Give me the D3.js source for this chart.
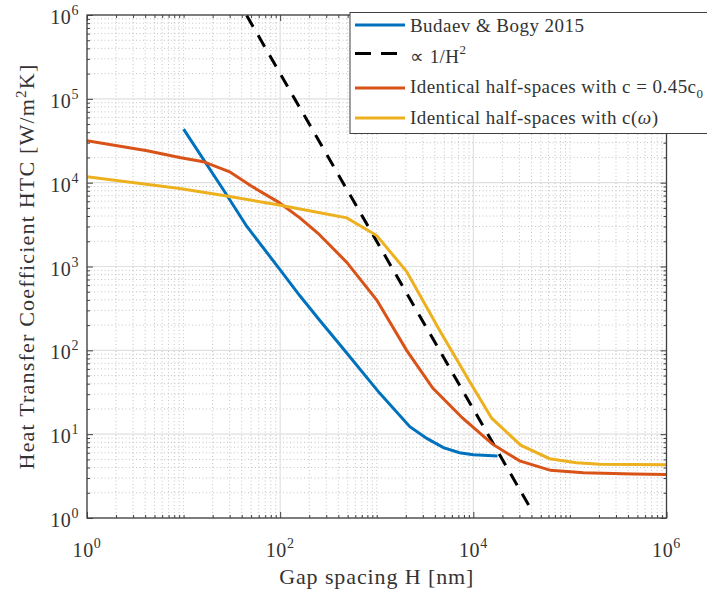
<!DOCTYPE html>
<html><head><meta charset="utf-8">
<script src="https://cdn.jsdelivr.net/npm/d3@7"></script>
<style>
html,body{margin:0;padding:0;background:#fff;}
svg{display:block;}
text{font-family:"Liberation Serif","Times New Roman",serif;fill:#333;}
</style></head>
<body>
<svg id="chart" width="707" height="595"></svg>
<script>
// ---- data ----
const seriesNames = ["Budaev & Bogy 2015", "∝ 1/H²", "Identical half-spaces with c = 0.45c0", "Identical half-spaces with c(ω)"];
const budaevH   = [10, 26, 45, 100, 160, 260, 420, 1070, 2200, 3300, 4900, 7200, 10000, 17800];
const budaevHTC = [43600, 8130, 3020, 912, 447, 224, 115, 30.9, 12.3, 8.9, 6.9, 6.0, 5.7, 5.5];
const invSqH    = [45, 39000];
const invSqHTC  = [988000, 1.31];
const constCH   = [1, 4.2, 9.1, 16, 30, 52, 95, 160, 245, 490, 1000, 2040, 3800, 7760, 15800, 30200, 63000, 138000, 447000, 1000000];
const constCHTC = [31600, 24000, 20000, 17800, 13500, 8900, 5900, 3800, 2510, 1120, 398, 100, 35.5, 15.5, 7.6, 4.8, 3.7, 3.47, 3.35, 3.31];
const varCH     = [1, 9.1, 28, 91, 257, 490, 1000, 2040, 4470, 9120, 15500, 30900, 61700, 117000, 204000, 1000000];
const varCHTC   = [11750, 8510, 6920, 5500, 4370, 3800, 2340, 871, 174, 42.7, 15.5, 7.4, 5.1, 4.57, 4.37, 4.31];
const xMajorTicks = [1, 1e2, 1e4, 1e6];
const xTickExps   = ["0", "2", "4", "6"];
const yMajorTicks = [1, 1e1, 1e2, 1e3, 1e4, 1e5, 1e6];
const yTickExps   = ["0", "1", "2", "3", "4", "5", "6"];
const xTitle = "Gap spacing H [nm]";
const yTitle = "Heat Transfer Coefficient HTC [W/m²K]";

// ---- layout ----
const L = 87, R = 666.5, T = 15, B = 518;
const svg = d3.select("#chart");
const x = d3.scaleLog().domain([1, 1e6]).range([L, R]);
const y = d3.scaleLog().domain([1, 1e6]).range([B, T]);

// minor tick values
const xMinor = [], yMinor = [];
for (let e = 0; e < 6; e++) {
  for (let m = 2; m <= 9; m++) { xMinor.push(m * Math.pow(10, e)); yMinor.push(m * Math.pow(10, e)); }
}
[1e1, 1e3, 1e5].forEach(v => xMinor.push(v));

// grid
const grid = svg.append("g");
grid.selectAll(".xminor").data(xMinor).join("line")
  .attr("x1", d => x(d)).attr("x2", d => x(d)).attr("y1", T).attr("y2", B)
  .attr("stroke", "#c4c4c4").attr("stroke-width", 1).attr("stroke-dasharray", "1,2.5");
grid.selectAll(".yminor").data(yMinor).join("line")
  .attr("y1", d => y(d)).attr("y2", d => y(d)).attr("x1", L).attr("x2", R)
  .attr("stroke", "#c4c4c4").attr("stroke-width", 1).attr("stroke-dasharray", "1,2.5");
grid.selectAll(".xmajor").data(xMajorTicks).join("line")
  .attr("x1", d => x(d)).attr("x2", d => x(d)).attr("y1", T).attr("y2", B)
  .attr("stroke", "#e0e0e0").attr("stroke-width", 1.2);
grid.selectAll(".ymajor").data(yMajorTicks).join("line")
  .attr("y1", d => y(d)).attr("y2", d => y(d)).attr("x1", L).attr("x2", R)
  .attr("stroke", "#e0e0e0").attr("stroke-width", 1.2);

// clip
svg.append("clipPath").attr("id", "clip").append("rect")
  .attr("x", L).attr("y", T).attr("width", R - L).attr("height", B - T);

const line = d3.line().x(d => x(d[0])).y(d => y(d[1]));
const plot = svg.append("g").attr("clip-path", "url(#clip)");
const series = [
  {H: budaevH, V: budaevHTC, color: "#0072BD", dash: null},
  {H: invSqH, V: invSqHTC, color: "#000000", dash: "13,10"},
  {H: constCH, V: constCHTC, color: "#D95319", dash: null},
  {H: varCH, V: varCHTC, color: "#EDB120", dash: null}
];
series.forEach(s => {
  plot.append("path").datum(s.H.map((h, i) => [h, s.V[i]]))
    .attr("d", line).attr("fill", "none").attr("stroke", s.color)
    .attr("stroke-width", 3).attr("stroke-dasharray", s.dash);
});

// axes (ticks inward, box on)
function styleAxis(g) {
  g.select(".domain").remove();
  g.selectAll(".tick line").attr("stroke", "#404040").attr("stroke-width", 1);
  g.selectAll("text").remove();
}
svg.append("g").attr("transform", `translate(0,${B})`)
  .call(d3.axisBottom(x).tickValues(xMajorTicks).tickSize(-6)).call(styleAxis);
svg.append("g").attr("transform", `translate(0,${B})`)
  .call(d3.axisBottom(x).tickValues(xMinor).tickSize(-3)).call(styleAxis);
svg.append("g").attr("transform", `translate(0,${T})`)
  .call(d3.axisTop(x).tickValues(xMajorTicks).tickSize(-6)).call(styleAxis);
svg.append("g").attr("transform", `translate(0,${T})`)
  .call(d3.axisTop(x).tickValues(xMinor).tickSize(-3)).call(styleAxis);
svg.append("g").attr("transform", `translate(${L},0)`)
  .call(d3.axisLeft(y).tickValues(yMajorTicks).tickSize(-6)).call(styleAxis);
svg.append("g").attr("transform", `translate(${L},0)`)
  .call(d3.axisLeft(y).tickValues(yMinor).tickSize(-3)).call(styleAxis);
svg.append("g").attr("transform", `translate(${R},0)`)
  .call(d3.axisRight(y).tickValues(yMajorTicks).tickSize(-6)).call(styleAxis);
svg.append("g").attr("transform", `translate(${R},0)`)
  .call(d3.axisRight(y).tickValues(yMinor).tickSize(-3)).call(styleAxis);

svg.append("rect").attr("x", L).attr("y", T).attr("width", R - L).attr("height", B - T)
  .attr("fill", "none").attr("stroke", "#404040").attr("stroke-width", 1.3);

// tick labels with superscripts
xMajorTicks.forEach((v, i) => {
  const t = svg.append("text").attr("x", x(v)).attr("y", 557).attr("text-anchor", "middle")
    .style("font-size", "20px").style("letter-spacing", "0.6px");
  t.append("tspan").text("10");
  t.append("tspan").attr("dy", -9).style("font-size", "14px").text(xTickExps[i]);
});
yMajorTicks.forEach((v, i) => {
  const t = svg.append("text").attr("x", 79).attr("y", y(v) + 9).attr("text-anchor", "end")
    .style("font-size", "20px").style("letter-spacing", "0.6px");
  t.append("tspan").text("10");
  t.append("tspan").attr("dy", -9).style("font-size", "14px").text(yTickExps[i]);
});

// axis titles
svg.append("text").attr("x", (L + R) / 2).attr("y", 584).attr("text-anchor", "middle")
  .style("font-size", "22px").style("letter-spacing", "0.9px").text(xTitle);
const yt = svg.append("text").attr("transform", `translate(34,${(T + B) / 2}) rotate(-90)`)
  .attr("text-anchor", "middle").style("font-size", "22px").style("letter-spacing", "1.2px");
yt.append("tspan").text("Heat Transfer Coefficient HTC [W/m");
yt.append("tspan").attr("dy", -8).style("font-size", "15px").text("2");
yt.append("tspan").attr("dy", 8).text("K]");

// legend
const lg = svg.append("g");
lg.append("rect").attr("x", 350).attr("y", 12.5).attr("width", 400).attr("height", 121)
  .attr("fill", "#fff").attr("stroke", "#404040").attr("stroke-width", 1);
const rowsY = [25, 53.5, 88, 118];
series.forEach((s, i) => {
  lg.append("line").attr("x1", 355).attr("x2", 405).attr("y1", rowsY[i]).attr("y2", rowsY[i])
    .attr("stroke", s.color).attr("stroke-width", 3).attr("stroke-dasharray", s.dash ? "16,10" : null);
});
const LS = "0.45px";
const lt0 = lg.append("text").attr("x", 410).attr("y", rowsY[0] + 7).style("font-size", "19px")
  .style("letter-spacing", LS).text(seriesNames[0]);
const lt1 = lg.append("text").attr("x", 410).attr("y", rowsY[1] + 9).style("font-size", "19px")
  .style("letter-spacing", LS);
lt1.append("tspan").text("∝  1/H");
lt1.append("tspan").attr("dy", -9).style("font-size", "13px").text("2");
const lt2 = lg.append("text").attr("x", 410).attr("y", rowsY[2] + 5).style("font-size", "19px")
  .style("letter-spacing", LS);
lt2.append("tspan").text("Identical half-spaces with c = 0.45c");
lt2.append("tspan").attr("dy", 5).style("font-size", "13px").text("0");
const lt3 = lg.append("text").attr("x", 410).attr("y", rowsY[3] + 6).style("font-size", "19px")
  .style("letter-spacing", LS);
lt3.append("tspan").text("Identical half-spaces with c(");
lt3.append("tspan").style("font-style", "italic").text("ω");
lt3.append("tspan").text(")");
</script>
</body></html>
